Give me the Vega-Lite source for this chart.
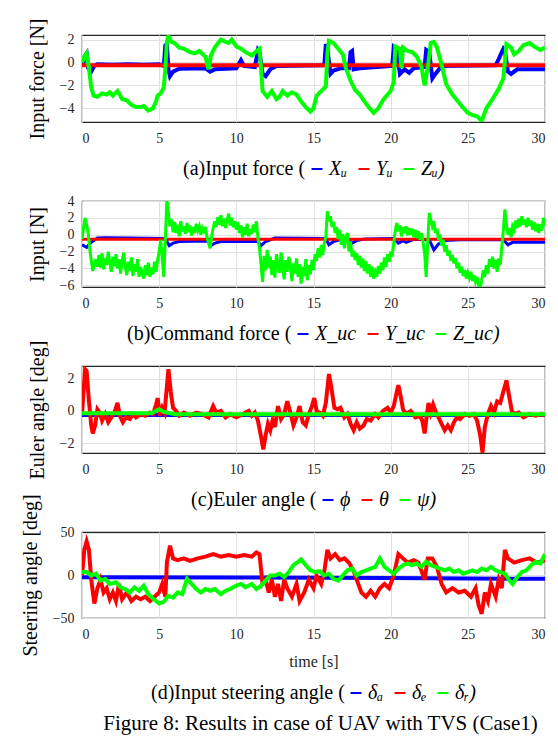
{
"$schema": "https://vega.github.io/schema/vega-lite/v6.json",
"background": "white",
"padding": {"left": 19, "top": 17, "right": 8, "bottom": 2},
"bounds": "flush",
"spacing": 79,
"resolve": {"scale": {"color": "independent"}},
"title": {"text": "Figure 8: Results in case of UAV with TVS (Case1)", "orient": "bottom", "anchor": "middle", "font": "Liberation Serif", "fontSize": 21, "fontWeight": "normal", "color": "#000000", "offset": 9, "dx": 38},
"config": {
 "font": "Liberation Serif",
 "view": {"stroke": "#262626", "strokeWidth": 1.2},
 "axis": {"labelFont": "Liberation Serif", "labelFontSize": 14, "labelColor": "#262626", "titleFont": "Liberation Serif", "titleFontWeight": "normal", "titleColor": "#000000", "titleFontSize": 20, "gridColor": "#e0e0e0", "gridWidth": 1, "domain": false, "ticks": false, "labelPadding": 8},
 "axisX": {"labelPadding": 9, "titleFontSize": 16, "titleColor": "#262626", "titlePadding": 12},
 "axisY": {"titlePadding": 12},
 "legend": {"orient": "bottom", "direction": "horizontal", "titleOrient": "left", "titleFont": "Liberation Serif", "titleFontSize": 20, "titleFontWeight": "normal", "titleColor": "#000000", "titleLimit": 500, "labelFont": "Liberation Serif", "labelFontSize": 20, "labelFontStyle": "italic", "labelColor": "#000000", "symbolType": "stroke", "symbolSize": 120, "symbolStrokeWidth": 2, "labelOffset": 2, "columnPadding": 6, "titlePadding": 1, "offset": 14, "layout": {"bottom": {"anchor": "middle"}}}
},
"datasets": {
"a": [
{"t":0,"v":-0.3,"s":"Xᵤ"},{"t":0.2,"v":0.6,"s":"Xᵤ"},{"t":0.3,"v":0.8,"s":"Xᵤ"},{"t":0.4,"v":-0.5,"s":"Xᵤ"},{"t":0.6,"v":-0.8,"s":"Xᵤ"},{"t":0.8,"v":-0.3,"s":"Xᵤ"},{"t":1.0,"v":-0.15,"s":"Xᵤ"},{"t":2,"v":-0.2,"s":"Xᵤ"},{"t":3,"v":-0.15,"s":"Xᵤ"},{"t":4,"v":-0.2,"s":"Xᵤ"},{"t":5.0,"v":-0.15,"s":"Xᵤ"},{"t":5.3,"v":-0.3,"s":"Xᵤ"},{"t":5.4,"v":1.5,"s":"Xᵤ"},{"t":5.5,"v":1.6,"s":"Xᵤ"},{"t":5.6,"v":-0.6,"s":"Xᵤ"},{"t":5.7,"v":-1.2,"s":"Xᵤ"},{"t":5.9,"v":-0.8,"s":"Xᵤ"},{"t":6.3,"v":-0.55,"s":"Xᵤ"},{"t":8,"v":-0.5,"s":"Xᵤ"},{"t":8.3,"v":-0.8,"s":"Xᵤ"},{"t":8.6,"v":-0.6,"s":"Xᵤ"},{"t":10.0,"v":-0.5,"s":"Xᵤ"},{"t":10.3,"v":0.2,"s":"Xᵤ"},{"t":10.5,"v":-0.3,"s":"Xᵤ"},{"t":11.2,"v":-0.4,"s":"Xᵤ"},{"t":11.4,"v":1.1,"s":"Xᵤ"},{"t":11.5,"v":0.9,"s":"Xᵤ"},{"t":11.7,"v":-1.0,"s":"Xᵤ"},{"t":11.9,"v":-1.2,"s":"Xᵤ"},{"t":12.2,"v":-0.6,"s":"Xᵤ"},{"t":12.6,"v":-0.3,"s":"Xᵤ"},{"t":15.7,"v":-0.25,"s":"Xᵤ"},{"t":15.8,"v":1.6,"s":"Xᵤ"},{"t":15.9,"v":1.2,"s":"Xᵤ"},{"t":16.1,"v":-1.0,"s":"Xᵤ"},{"t":16.3,"v":-0.7,"s":"Xᵤ"},{"t":16.8,"v":-0.5,"s":"Xᵤ"},{"t":17.3,"v":-0.5,"s":"Xᵤ"},{"t":17.4,"v":0.9,"s":"Xᵤ"},{"t":17.5,"v":1.0,"s":"Xᵤ"},{"t":17.6,"v":-0.6,"s":"Xᵤ"},{"t":18,"v":-0.5,"s":"Xᵤ"},{"t":20.1,"v":-0.3,"s":"Xᵤ"},{"t":20.2,"v":1.3,"s":"Xᵤ"},{"t":20.4,"v":1.0,"s":"Xᵤ"},{"t":20.6,"v":-1.0,"s":"Xᵤ"},{"t":20.9,"v":-0.6,"s":"Xᵤ"},{"t":21.2,"v":-0.9,"s":"Xᵤ"},{"t":21.5,"v":-0.5,"s":"Xᵤ"},{"t":22.2,"v":-0.4,"s":"Xᵤ"},{"t":22.3,"v":1.1,"s":"Xᵤ"},{"t":22.5,"v":0.9,"s":"Xᵤ"},{"t":22.7,"v":-1.4,"s":"Xᵤ"},{"t":22.9,"v":-1.0,"s":"Xᵤ"},{"t":23.3,"v":-0.3,"s":"Xᵤ"},{"t":26.8,"v":-0.25,"s":"Xᵤ"},{"t":27.0,"v":0.3,"s":"Xᵤ"},{"t":27.3,"v":1.2,"s":"Xᵤ"},{"t":27.4,"v":1.0,"s":"Xᵤ"},{"t":27.6,"v":-0.8,"s":"Xᵤ"},{"t":27.8,"v":-1.0,"s":"Xᵤ"},{"t":28.2,"v":-0.6,"s":"Xᵤ"},{"t":30,"v":-0.6,"s":"Xᵤ"},
{"t":0,"v":-0.25,"s":"Yᵤ"},{"t":5,"v":-0.25,"s":"Yᵤ"},{"t":10,"v":-0.25,"s":"Yᵤ"},{"t":15,"v":-0.25,"s":"Yᵤ"},{"t":20,"v":-0.25,"s":"Yᵤ"},{"t":25,"v":-0.25,"s":"Yᵤ"},{"t":30,"v":-0.25,"s":"Yᵤ"},
{"t":0,"v":0,"s":"Zᵤ"},{"t":0.15,"v":0.5,"s":"Zᵤ"},{"t":0.3,"v":0.8,"s":"Zᵤ"},{"t":0.45,"v":-0.5,"s":"Zᵤ"},{"t":0.6,"v":-2.2,"s":"Zᵤ"},{"t":0.75,"v":-2.9,"s":"Zᵤ"},{"t":1.0,"v":-3.0,"s":"Zᵤ"},{"t":1.3,"v":-2.7,"s":"Zᵤ"},{"t":1.6,"v":-2.8,"s":"Zᵤ"},{"t":1.8,"v":-2.6,"s":"Zᵤ"},{"t":2.0,"v":-2.9,"s":"Zᵤ"},{"t":2.3,"v":-2.5,"s":"Zᵤ"},{"t":2.6,"v":-3.2,"s":"Zᵤ"},{"t":2.9,"v":-3.3,"s":"Zᵤ"},{"t":3.2,"v":-3.7,"s":"Zᵤ"},{"t":3.5,"v":-3.9,"s":"Zᵤ"},{"t":3.8,"v":-3.9,"s":"Zᵤ"},{"t":4.0,"v":-3.8,"s":"Zᵤ"},{"t":4.3,"v":-4.2,"s":"Zᵤ"},{"t":4.6,"v":-4.0,"s":"Zᵤ"},{"t":4.8,"v":-3.4,"s":"Zᵤ"},{"t":4.9,"v":-2.9,"s":"Zᵤ"},{"t":5.1,"v":-2.7,"s":"Zᵤ"},{"t":5.3,"v":-2.2,"s":"Zᵤ"},{"t":5.4,"v":-0.5,"s":"Zᵤ"},{"t":5.5,"v":1.8,"s":"Zᵤ"},{"t":5.6,"v":2.3,"s":"Zᵤ"},{"t":5.8,"v":1.8,"s":"Zᵤ"},{"t":6.0,"v":1.7,"s":"Zᵤ"},{"t":6.3,"v":1.3,"s":"Zᵤ"},{"t":6.6,"v":1.2,"s":"Zᵤ"},{"t":7.0,"v":0.9,"s":"Zᵤ"},{"t":7.3,"v":0.8,"s":"Zᵤ"},{"t":7.6,"v":1.0,"s":"Zᵤ"},{"t":8.0,"v":0.5,"s":"Zᵤ"},{"t":8.2,"v":-0.6,"s":"Zᵤ"},{"t":8.35,"v":0.6,"s":"Zᵤ"},{"t":8.6,"v":1.3,"s":"Zᵤ"},{"t":9.0,"v":2.0,"s":"Zᵤ"},{"t":9.3,"v":1.8,"s":"Zᵤ"},{"t":9.5,"v":1.7,"s":"Zᵤ"},{"t":9.7,"v":2.0,"s":"Zᵤ"},{"t":10.0,"v":1.4,"s":"Zᵤ"},{"t":10.3,"v":1.2,"s":"Zᵤ"},{"t":10.6,"v":0.9,"s":"Zᵤ"},{"t":11.0,"v":0.6,"s":"Zᵤ"},{"t":11.3,"v":1.0,"s":"Zᵤ"},{"t":11.5,"v":1.2,"s":"Zᵤ"},{"t":11.6,"v":-0.5,"s":"Zᵤ"},{"t":11.7,"v":-2.5,"s":"Zᵤ"},{"t":12.0,"v":-3.0,"s":"Zᵤ"},{"t":12.3,"v":-2.5,"s":"Zᵤ"},{"t":12.6,"v":-3.2,"s":"Zᵤ"},{"t":12.8,"v":-3.0,"s":"Zᵤ"},{"t":13.0,"v":-2.5,"s":"Zᵤ"},{"t":13.3,"v":-2.9,"s":"Zᵤ"},{"t":13.6,"v":-2.6,"s":"Zᵤ"},{"t":13.9,"v":-2.8,"s":"Zᵤ"},{"t":14.2,"v":-3.4,"s":"Zᵤ"},{"t":14.5,"v":-3.9,"s":"Zᵤ"},{"t":14.8,"v":-4.3,"s":"Zᵤ"},{"t":15.0,"v":-4.0,"s":"Zᵤ"},{"t":15.2,"v":-2.9,"s":"Zᵤ"},{"t":15.5,"v":-2.5,"s":"Zᵤ"},{"t":15.8,"v":-2.1,"s":"Zᵤ"},{"t":15.9,"v":0.8,"s":"Zᵤ"},{"t":16.0,"v":1.9,"s":"Zᵤ"},{"t":16.3,"v":1.7,"s":"Zᵤ"},{"t":16.6,"v":1.2,"s":"Zᵤ"},{"t":16.9,"v":0.7,"s":"Zᵤ"},{"t":17.1,"v":-0.5,"s":"Zᵤ"},{"t":17.4,"v":-1.6,"s":"Zᵤ"},{"t":17.7,"v":-2.4,"s":"Zᵤ"},{"t":18.0,"v":-2.8,"s":"Zᵤ"},{"t":18.4,"v":-3.6,"s":"Zᵤ"},{"t":18.7,"v":-4.1,"s":"Zᵤ"},{"t":18.9,"v":-4.4,"s":"Zᵤ"},{"t":19.2,"v":-4.0,"s":"Zᵤ"},{"t":19.5,"v":-3.3,"s":"Zᵤ"},{"t":19.8,"v":-2.8,"s":"Zᵤ"},{"t":20.0,"v":-2.5,"s":"Zᵤ"},{"t":20.2,"v":-1.7,"s":"Zᵤ"},{"t":20.3,"v":1.4,"s":"Zᵤ"},{"t":20.6,"v":1.2,"s":"Zᵤ"},{"t":20.7,"v":-0.5,"s":"Zᵤ"},{"t":20.8,"v":1.3,"s":"Zᵤ"},{"t":21.1,"v":1.0,"s":"Zᵤ"},{"t":21.4,"v":0.9,"s":"Zᵤ"},{"t":21.7,"v":0.5,"s":"Zᵤ"},{"t":22.0,"v":-0.4,"s":"Zᵤ"},{"t":22.2,"v":-2.0,"s":"Zᵤ"},{"t":22.4,"v":-0.5,"s":"Zᵤ"},{"t":22.6,"v":1.7,"s":"Zᵤ"},{"t":22.8,"v":1.8,"s":"Zᵤ"},{"t":23.0,"v":1.3,"s":"Zᵤ"},{"t":23.3,"v":-0.2,"s":"Zᵤ"},{"t":23.6,"v":-1.9,"s":"Zᵤ"},{"t":24.0,"v":-2.8,"s":"Zᵤ"},{"t":24.3,"v":-3.3,"s":"Zᵤ"},{"t":24.6,"v":-3.8,"s":"Zᵤ"},{"t":25.0,"v":-4.4,"s":"Zᵤ"},{"t":25.3,"v":-4.6,"s":"Zᵤ"},{"t":25.6,"v":-4.7,"s":"Zᵤ"},{"t":25.9,"v":-5.1,"s":"Zᵤ"},{"t":26.2,"v":-4.0,"s":"Zᵤ"},{"t":26.6,"v":-3.2,"s":"Zᵤ"},{"t":27.0,"v":-2.3,"s":"Zᵤ"},{"t":27.3,"v":-1.4,"s":"Zᵤ"},{"t":27.5,"v":1.6,"s":"Zᵤ"},{"t":27.8,"v":1.3,"s":"Zᵤ"},{"t":28.0,"v":0.7,"s":"Zᵤ"},{"t":28.3,"v":1.0,"s":"Zᵤ"},{"t":28.6,"v":1.5,"s":"Zᵤ"},{"t":29.0,"v":1.7,"s":"Zᵤ"},{"t":29.3,"v":1.4,"s":"Zᵤ"},{"t":29.7,"v":1.1,"s":"Zᵤ"},{"t":30.0,"v":1.3,"s":"Zᵤ"}
],
"b": [
{"t":0,"v":-1.2,"s":"X_uc"},{"t":0.3,"v":-1.5,"s":"X_uc"},{"t":0.6,"v":-0.9,"s":"X_uc"},{"t":1.0,"v":-0.4,"s":"X_uc"},{"t":1.5,"v":-0.35,"s":"X_uc"},{"t":3,"v":-0.4,"s":"X_uc"},{"t":5.3,"v":-0.45,"s":"X_uc"},{"t":5.5,"v":-0.8,"s":"X_uc"},{"t":5.65,"v":-1.3,"s":"X_uc"},{"t":5.9,"v":-1.0,"s":"X_uc"},{"t":6.3,"v":-0.8,"s":"X_uc"},{"t":8.2,"v":-0.75,"s":"X_uc"},{"t":8.35,"v":-1.3,"s":"X_uc"},{"t":8.6,"v":-1.0,"s":"X_uc"},{"t":9.0,"v":-0.8,"s":"X_uc"},{"t":11.4,"v":-0.8,"s":"X_uc"},{"t":11.6,"v":-1.3,"s":"X_uc"},{"t":11.9,"v":-0.8,"s":"X_uc"},{"t":12.5,"v":-0.4,"s":"X_uc"},{"t":15.8,"v":-0.45,"s":"X_uc"},{"t":16.0,"v":-1.2,"s":"X_uc"},{"t":16.3,"v":-0.8,"s":"X_uc"},{"t":16.7,"v":-0.6,"s":"X_uc"},{"t":17.3,"v":-0.6,"s":"X_uc"},{"t":17.5,"v":-1.0,"s":"X_uc"},{"t":17.8,"v":-0.7,"s":"X_uc"},{"t":18.3,"v":-0.5,"s":"X_uc"},{"t":20.2,"v":-0.45,"s":"X_uc"},{"t":20.5,"v":-1.0,"s":"X_uc"},{"t":20.8,"v":-0.7,"s":"X_uc"},{"t":21.0,"v":-0.9,"s":"X_uc"},{"t":21.5,"v":-0.55,"s":"X_uc"},{"t":22.5,"v":-0.6,"s":"X_uc"},{"t":22.8,"v":-1.8,"s":"X_uc"},{"t":23.1,"v":-1.1,"s":"X_uc"},{"t":23.5,"v":-0.7,"s":"X_uc"},{"t":24.5,"v":-0.6,"s":"X_uc"},{"t":27.3,"v":-0.6,"s":"X_uc"},{"t":27.6,"v":-1.2,"s":"X_uc"},{"t":27.9,"v":-0.9,"s":"X_uc"},{"t":28.5,"v":-0.85,"s":"X_uc"},{"t":30,"v":-0.9,"s":"X_uc"},
{"t":0,"v":-0.55,"s":"Y_uc"},{"t":10,"v":-0.55,"s":"Y_uc"},{"t":20,"v":-0.55,"s":"Y_uc"},{"t":30,"v":-0.55,"s":"Y_uc"},
{"t":0.0,"v":-0.5,"s":"Z_uc"},{"t":0.1,"v":0.8,"s":"Z_uc"},{"t":0.2,"v":2.0,"s":"Z_uc"},{"t":0.3,"v":1.2,"s":"Z_uc"},{"t":0.4,"v":0.2,"s":"Z_uc"},{"t":0.5,"v":-1.7,"s":"Z_uc"},{"t":0.6,"v":-3.0,"s":"Z_uc"},{"t":0.7,"v":-4.3,"s":"Z_uc"},{"t":0.8,"v":-3.5,"s":"Z_uc"},{"t":0.9,"v":-2.9,"s":"Z_uc"},{"t":1.0,"v":-3.8,"s":"Z_uc"},{"t":1.1,"v":-2.4,"s":"Z_uc"},{"t":1.2,"v":-3.9,"s":"Z_uc"},{"t":1.3,"v":-2.2,"s":"Z_uc"},{"t":1.4,"v":-4.1,"s":"Z_uc"},{"t":1.5,"v":-2.8,"s":"Z_uc"},{"t":1.6,"v":-3.6,"s":"Z_uc"},{"t":1.7,"v":-2.0,"s":"Z_uc"},{"t":1.8,"v":-3.3,"s":"Z_uc"},{"t":1.9,"v":-4.4,"s":"Z_uc"},{"t":2.0,"v":-2.6,"s":"Z_uc"},{"t":2.1,"v":-3.7,"s":"Z_uc"},{"t":2.2,"v":-2.3,"s":"Z_uc"},{"t":2.3,"v":-4.0,"s":"Z_uc"},{"t":2.4,"v":-2.9,"s":"Z_uc"},{"t":2.5,"v":-4.6,"s":"Z_uc"},{"t":2.6,"v":-3.1,"s":"Z_uc"},{"t":2.7,"v":-2.1,"s":"Z_uc"},{"t":2.8,"v":-3.8,"s":"Z_uc"},{"t":2.9,"v":-4.8,"s":"Z_uc"},{"t":3.0,"v":-3.2,"s":"Z_uc"},{"t":3.1,"v":-4.3,"s":"Z_uc"},{"t":3.2,"v":-2.7,"s":"Z_uc"},{"t":3.3,"v":-4.9,"s":"Z_uc"},{"t":3.4,"v":-3.5,"s":"Z_uc"},{"t":3.5,"v":-4.4,"s":"Z_uc"},{"t":3.6,"v":-2.9,"s":"Z_uc"},{"t":3.7,"v":-5.0,"s":"Z_uc"},{"t":3.8,"v":-3.8,"s":"Z_uc"},{"t":3.9,"v":-4.6,"s":"Z_uc"},{"t":4.0,"v":-5.2,"s":"Z_uc"},{"t":4.1,"v":-3.6,"s":"Z_uc"},{"t":4.2,"v":-4.8,"s":"Z_uc"},{"t":4.3,"v":-3.3,"s":"Z_uc"},{"t":4.4,"v":-5.0,"s":"Z_uc"},{"t":4.5,"v":-3.9,"s":"Z_uc"},{"t":4.6,"v":-4.7,"s":"Z_uc"},{"t":4.7,"v":-3.2,"s":"Z_uc"},{"t":4.8,"v":-4.4,"s":"Z_uc"},{"t":4.9,"v":-3.0,"s":"Z_uc"},{"t":5.0,"v":-2.0,"s":"Z_uc"},{"t":5.1,"v":-0.6,"s":"Z_uc"},{"t":5.2,"v":-2.8,"s":"Z_uc"},{"t":5.3,"v":-5.0,"s":"Z_uc"},{"t":5.4,"v":-0.5,"s":"Z_uc"},{"t":5.5,"v":4.2,"s":"Z_uc"},{"t":5.6,"v":2.6,"s":"Z_uc"},{"t":5.7,"v":1.0,"s":"Z_uc"},{"t":5.8,"v":1.8,"s":"Z_uc"},{"t":5.9,"v":0.3,"s":"Z_uc"},{"t":6.0,"v":1.5,"s":"Z_uc"},{"t":6.1,"v":0.2,"s":"Z_uc"},{"t":6.2,"v":1.2,"s":"Z_uc"},{"t":6.3,"v":-0.2,"s":"Z_uc"},{"t":6.4,"v":1.6,"s":"Z_uc"},{"t":6.5,"v":0.4,"s":"Z_uc"},{"t":6.6,"v":1.0,"s":"Z_uc"},{"t":6.7,"v":0.1,"s":"Z_uc"},{"t":6.8,"v":1.4,"s":"Z_uc"},{"t":6.9,"v":0.3,"s":"Z_uc"},{"t":7.0,"v":1.1,"s":"Z_uc"},{"t":7.1,"v":-0.1,"s":"Z_uc"},{"t":7.2,"v":0.9,"s":"Z_uc"},{"t":7.3,"v":0.2,"s":"Z_uc"},{"t":7.4,"v":1.3,"s":"Z_uc"},{"t":7.5,"v":0.5,"s":"Z_uc"},{"t":7.6,"v":1.0,"s":"Z_uc"},{"t":7.7,"v":0.0,"s":"Z_uc"},{"t":7.8,"v":0.8,"s":"Z_uc"},{"t":7.9,"v":0.4,"s":"Z_uc"},{"t":8.0,"v":0.9,"s":"Z_uc"},{"t":8.1,"v":-0.3,"s":"Z_uc"},{"t":8.2,"v":-1.0,"s":"Z_uc"},{"t":8.3,"v":-1.6,"s":"Z_uc"},{"t":8.4,"v":-0.2,"s":"Z_uc"},{"t":8.5,"v":0.8,"s":"Z_uc"},{"t":8.6,"v":1.6,"s":"Z_uc"},{"t":8.7,"v":0.9,"s":"Z_uc"},{"t":8.8,"v":2.1,"s":"Z_uc"},{"t":8.9,"v":1.2,"s":"Z_uc"},{"t":9.0,"v":2.3,"s":"Z_uc"},{"t":9.1,"v":1.0,"s":"Z_uc"},{"t":9.2,"v":1.9,"s":"Z_uc"},{"t":9.3,"v":0.8,"s":"Z_uc"},{"t":9.4,"v":1.7,"s":"Z_uc"},{"t":9.5,"v":2.5,"s":"Z_uc"},{"t":9.6,"v":1.1,"s":"Z_uc"},{"t":9.7,"v":2.0,"s":"Z_uc"},{"t":9.8,"v":0.9,"s":"Z_uc"},{"t":9.9,"v":1.6,"s":"Z_uc"},{"t":10.0,"v":0.6,"s":"Z_uc"},{"t":10.1,"v":1.5,"s":"Z_uc"},{"t":10.2,"v":0.2,"s":"Z_uc"},{"t":10.3,"v":1.1,"s":"Z_uc"},{"t":10.4,"v":-0.3,"s":"Z_uc"},{"t":10.5,"v":0.9,"s":"Z_uc"},{"t":10.6,"v":0.0,"s":"Z_uc"},{"t":10.7,"v":1.3,"s":"Z_uc"},{"t":10.8,"v":-0.2,"s":"Z_uc"},{"t":10.9,"v":0.7,"s":"Z_uc"},{"t":11.0,"v":0.1,"s":"Z_uc"},{"t":11.1,"v":1.2,"s":"Z_uc"},{"t":11.2,"v":0.3,"s":"Z_uc"},{"t":11.3,"v":1.6,"s":"Z_uc"},{"t":11.4,"v":-0.4,"s":"Z_uc"},{"t":11.5,"v":-1.6,"s":"Z_uc"},{"t":11.6,"v":-3.5,"s":"Z_uc"},{"t":11.7,"v":-5.6,"s":"Z_uc"},{"t":11.8,"v":-2.5,"s":"Z_uc"},{"t":11.9,"v":-4.2,"s":"Z_uc"},{"t":12.0,"v":-1.8,"s":"Z_uc"},{"t":12.1,"v":-3.9,"s":"Z_uc"},{"t":12.2,"v":-2.6,"s":"Z_uc"},{"t":12.3,"v":-4.8,"s":"Z_uc"},{"t":12.4,"v":-3.0,"s":"Z_uc"},{"t":12.5,"v":-5.1,"s":"Z_uc"},{"t":12.6,"v":-2.3,"s":"Z_uc"},{"t":12.7,"v":-3.6,"s":"Z_uc"},{"t":12.8,"v":-4.5,"s":"Z_uc"},{"t":12.9,"v":-2.1,"s":"Z_uc"},{"t":13.0,"v":-3.9,"s":"Z_uc"},{"t":13.1,"v":-5.3,"s":"Z_uc"},{"t":13.2,"v":-3.0,"s":"Z_uc"},{"t":13.3,"v":-4.4,"s":"Z_uc"},{"t":13.4,"v":-2.6,"s":"Z_uc"},{"t":13.5,"v":-3.7,"s":"Z_uc"},{"t":13.6,"v":-5.5,"s":"Z_uc"},{"t":13.7,"v":-3.4,"s":"Z_uc"},{"t":13.8,"v":-4.6,"s":"Z_uc"},{"t":13.9,"v":-2.8,"s":"Z_uc"},{"t":14.0,"v":-5.0,"s":"Z_uc"},{"t":14.1,"v":-3.5,"s":"Z_uc"},{"t":14.2,"v":-5.8,"s":"Z_uc"},{"t":14.3,"v":-3.8,"s":"Z_uc"},{"t":14.4,"v":-4.9,"s":"Z_uc"},{"t":14.5,"v":-2.9,"s":"Z_uc"},{"t":14.6,"v":-5.4,"s":"Z_uc"},{"t":14.7,"v":-3.6,"s":"Z_uc"},{"t":14.8,"v":-4.7,"s":"Z_uc"},{"t":14.9,"v":-3.0,"s":"Z_uc"},{"t":15.0,"v":-4.2,"s":"Z_uc"},{"t":15.1,"v":-2.3,"s":"Z_uc"},{"t":15.2,"v":-3.1,"s":"Z_uc"},{"t":15.3,"v":-1.6,"s":"Z_uc"},{"t":15.4,"v":-2.7,"s":"Z_uc"},{"t":15.5,"v":-1.2,"s":"Z_uc"},{"t":15.6,"v":-2.4,"s":"Z_uc"},{"t":15.7,"v":-1.0,"s":"Z_uc"},{"t":15.8,"v":-0.2,"s":"Z_uc"},{"t":15.9,"v":2.8,"s":"Z_uc"},{"t":16.0,"v":1.6,"s":"Z_uc"},{"t":16.1,"v":2.2,"s":"Z_uc"},{"t":16.2,"v":0.9,"s":"Z_uc"},{"t":16.3,"v":1.5,"s":"Z_uc"},{"t":16.4,"v":0.2,"s":"Z_uc"},{"t":16.5,"v":0.9,"s":"Z_uc"},{"t":16.6,"v":-0.5,"s":"Z_uc"},{"t":16.7,"v":0.6,"s":"Z_uc"},{"t":16.8,"v":-1.2,"s":"Z_uc"},{"t":16.9,"v":0.1,"s":"Z_uc"},{"t":17.0,"v":-1.6,"s":"Z_uc"},{"t":17.1,"v":-0.3,"s":"Z_uc"},{"t":17.2,"v":0.2,"s":"Z_uc"},{"t":17.3,"v":-2.0,"s":"Z_uc"},{"t":17.4,"v":-0.8,"s":"Z_uc"},{"t":17.5,"v":-2.6,"s":"Z_uc"},{"t":17.6,"v":-1.9,"s":"Z_uc"},{"t":17.7,"v":-3.0,"s":"Z_uc"},{"t":17.8,"v":-2.2,"s":"Z_uc"},{"t":17.9,"v":-3.6,"s":"Z_uc"},{"t":18.0,"v":-2.5,"s":"Z_uc"},{"t":18.1,"v":-3.9,"s":"Z_uc"},{"t":18.2,"v":-2.8,"s":"Z_uc"},{"t":18.3,"v":-4.3,"s":"Z_uc"},{"t":18.4,"v":-3.1,"s":"Z_uc"},{"t":18.5,"v":-4.6,"s":"Z_uc"},{"t":18.6,"v":-3.5,"s":"Z_uc"},{"t":18.7,"v":-5.0,"s":"Z_uc"},{"t":18.8,"v":-3.8,"s":"Z_uc"},{"t":18.9,"v":-5.2,"s":"Z_uc"},{"t":19.0,"v":-4.4,"s":"Z_uc"},{"t":19.1,"v":-5.0,"s":"Z_uc"},{"t":19.2,"v":-3.7,"s":"Z_uc"},{"t":19.3,"v":-4.6,"s":"Z_uc"},{"t":19.4,"v":-3.3,"s":"Z_uc"},{"t":19.5,"v":-4.2,"s":"Z_uc"},{"t":19.6,"v":-2.7,"s":"Z_uc"},{"t":19.7,"v":-3.8,"s":"Z_uc"},{"t":19.8,"v":-2.3,"s":"Z_uc"},{"t":19.9,"v":-3.2,"s":"Z_uc"},{"t":20.0,"v":-2.0,"s":"Z_uc"},{"t":20.1,"v":-2.6,"s":"Z_uc"},{"t":20.2,"v":-1.0,"s":"Z_uc"},{"t":20.3,"v":0.5,"s":"Z_uc"},{"t":20.4,"v":1.4,"s":"Z_uc"},{"t":20.5,"v":0.4,"s":"Z_uc"},{"t":20.6,"v":1.1,"s":"Z_uc"},{"t":20.7,"v":-0.2,"s":"Z_uc"},{"t":20.8,"v":0.9,"s":"Z_uc"},{"t":20.9,"v":0.2,"s":"Z_uc"},{"t":21.0,"v":1.0,"s":"Z_uc"},{"t":21.1,"v":-0.1,"s":"Z_uc"},{"t":21.2,"v":0.8,"s":"Z_uc"},{"t":21.3,"v":0.0,"s":"Z_uc"},{"t":21.4,"v":0.7,"s":"Z_uc"},{"t":21.5,"v":-0.3,"s":"Z_uc"},{"t":21.6,"v":0.6,"s":"Z_uc"},{"t":21.7,"v":-0.4,"s":"Z_uc"},{"t":21.8,"v":0.4,"s":"Z_uc"},{"t":21.9,"v":-0.6,"s":"Z_uc"},{"t":22.0,"v":0.2,"s":"Z_uc"},{"t":22.1,"v":-0.9,"s":"Z_uc"},{"t":22.2,"v":-2.2,"s":"Z_uc"},{"t":22.3,"v":-5.0,"s":"Z_uc"},{"t":22.4,"v":-1.0,"s":"Z_uc"},{"t":22.5,"v":2.6,"s":"Z_uc"},{"t":22.6,"v":1.8,"s":"Z_uc"},{"t":22.7,"v":1.0,"s":"Z_uc"},{"t":22.8,"v":1.6,"s":"Z_uc"},{"t":22.9,"v":0.2,"s":"Z_uc"},{"t":23.0,"v":0.7,"s":"Z_uc"},{"t":23.1,"v":-0.6,"s":"Z_uc"},{"t":23.2,"v":0.0,"s":"Z_uc"},{"t":23.3,"v":-1.3,"s":"Z_uc"},{"t":23.4,"v":-0.6,"s":"Z_uc"},{"t":23.5,"v":-2.0,"s":"Z_uc"},{"t":23.6,"v":-1.2,"s":"Z_uc"},{"t":23.7,"v":-2.5,"s":"Z_uc"},{"t":23.8,"v":-1.9,"s":"Z_uc"},{"t":23.9,"v":-3.1,"s":"Z_uc"},{"t":24.0,"v":-2.4,"s":"Z_uc"},{"t":24.1,"v":-3.4,"s":"Z_uc"},{"t":24.2,"v":-2.8,"s":"Z_uc"},{"t":24.3,"v":-4.0,"s":"Z_uc"},{"t":24.4,"v":-3.3,"s":"Z_uc"},{"t":24.5,"v":-4.5,"s":"Z_uc"},{"t":24.6,"v":-3.8,"s":"Z_uc"},{"t":24.7,"v":-4.9,"s":"Z_uc"},{"t":24.8,"v":-4.2,"s":"Z_uc"},{"t":24.9,"v":-5.2,"s":"Z_uc"},{"t":25.0,"v":-4.5,"s":"Z_uc"},{"t":25.1,"v":-5.1,"s":"Z_uc"},{"t":25.2,"v":-4.4,"s":"Z_uc"},{"t":25.3,"v":-5.5,"s":"Z_uc"},{"t":25.4,"v":-4.8,"s":"Z_uc"},{"t":25.5,"v":-5.6,"s":"Z_uc"},{"t":25.6,"v":-5.0,"s":"Z_uc"},{"t":25.7,"v":-6.0,"s":"Z_uc"},{"t":25.8,"v":-6.3,"s":"Z_uc"},{"t":25.9,"v":-5.4,"s":"Z_uc"},{"t":26.0,"v":-4.2,"s":"Z_uc"},{"t":26.1,"v":-5.0,"s":"Z_uc"},{"t":26.2,"v":-3.6,"s":"Z_uc"},{"t":26.3,"v":-4.6,"s":"Z_uc"},{"t":26.4,"v":-2.9,"s":"Z_uc"},{"t":26.5,"v":-3.8,"s":"Z_uc"},{"t":26.6,"v":-2.6,"s":"Z_uc"},{"t":26.7,"v":-4.0,"s":"Z_uc"},{"t":26.8,"v":-3.0,"s":"Z_uc"},{"t":26.9,"v":-4.4,"s":"Z_uc"},{"t":27.0,"v":-2.8,"s":"Z_uc"},{"t":27.1,"v":-3.6,"s":"Z_uc"},{"t":27.2,"v":-1.5,"s":"Z_uc"},{"t":27.3,"v":0.5,"s":"Z_uc"},{"t":27.4,"v":3.0,"s":"Z_uc"},{"t":27.5,"v":1.2,"s":"Z_uc"},{"t":27.6,"v":0.0,"s":"Z_uc"},{"t":27.7,"v":0.8,"s":"Z_uc"},{"t":27.8,"v":-0.3,"s":"Z_uc"},{"t":27.9,"v":1.0,"s":"Z_uc"},{"t":28.0,"v":0.6,"s":"Z_uc"},{"t":28.1,"v":1.7,"s":"Z_uc"},{"t":28.2,"v":0.8,"s":"Z_uc"},{"t":28.3,"v":1.9,"s":"Z_uc"},{"t":28.4,"v":1.0,"s":"Z_uc"},{"t":28.5,"v":2.2,"s":"Z_uc"},{"t":28.6,"v":1.2,"s":"Z_uc"},{"t":28.7,"v":1.8,"s":"Z_uc"},{"t":28.8,"v":0.9,"s":"Z_uc"},{"t":28.9,"v":2.0,"s":"Z_uc"},{"t":29.0,"v":1.1,"s":"Z_uc"},{"t":29.1,"v":1.7,"s":"Z_uc"},{"t":29.2,"v":0.6,"s":"Z_uc"},{"t":29.3,"v":1.5,"s":"Z_uc"},{"t":29.4,"v":0.4,"s":"Z_uc"},{"t":29.5,"v":1.3,"s":"Z_uc"},{"t":29.6,"v":0.2,"s":"Z_uc"},{"t":29.7,"v":1.2,"s":"Z_uc"},{"t":29.8,"v":0.5,"s":"Z_uc"},{"t":29.9,"v":2.0,"s":"Z_uc"},{"t":30.0,"v":1.0,"s":"Z_uc"}
],
"c": [
{"t":0,"v":-0.25,"s":"ϕ"},{"t":10,"v":-0.25,"s":"ϕ"},{"t":20,"v":-0.25,"s":"ϕ"},{"t":30,"v":-0.25,"s":"ϕ"},
{"t":0,"v":-0.2,"s":"θ"},{"t":0.1,"v":1.2,"s":"θ"},{"t":0.2,"v":2.6,"s":"θ"},{"t":0.3,"v":2.5,"s":"θ"},{"t":0.45,"v":0.6,"s":"θ"},{"t":0.6,"v":-0.9,"s":"θ"},{"t":0.7,"v":-1.4,"s":"θ"},{"t":0.85,"v":-0.9,"s":"θ"},{"t":1.0,"v":0.1,"s":"θ"},{"t":1.15,"v":-0.1,"s":"θ"},{"t":1.3,"v":-0.6,"s":"θ"},{"t":1.5,"v":-0.2,"s":"θ"},{"t":1.7,"v":-0.7,"s":"θ"},{"t":1.9,"v":-0.4,"s":"θ"},{"t":2.1,"v":-0.1,"s":"θ"},{"t":2.3,"v":0.5,"s":"θ"},{"t":2.45,"v":-0.3,"s":"θ"},{"t":2.65,"v":-0.7,"s":"θ"},{"t":2.85,"v":-0.4,"s":"θ"},{"t":3.1,"v":-0.5,"s":"θ"},{"t":3.3,"v":-0.2,"s":"θ"},{"t":3.5,"v":-0.4,"s":"θ"},{"t":3.8,"v":-0.2,"s":"θ"},{"t":4.1,"v":-0.3,"s":"θ"},{"t":4.4,"v":-0.1,"s":"θ"},{"t":4.6,"v":-0.2,"s":"θ"},{"t":4.8,"v":0.4,"s":"θ"},{"t":4.9,"v":0.8,"s":"θ"},{"t":5.05,"v":-0.3,"s":"θ"},{"t":5.2,"v":0.2,"s":"θ"},{"t":5.35,"v":-0.1,"s":"θ"},{"t":5.5,"v":1.5,"s":"θ"},{"t":5.6,"v":2.6,"s":"θ"},{"t":5.75,"v":1.2,"s":"θ"},{"t":5.9,"v":0.2,"s":"θ"},{"t":6.1,"v":0.0,"s":"θ"},{"t":6.3,"v":-0.3,"s":"θ"},{"t":6.6,"v":-0.1,"s":"θ"},{"t":7.0,"v":-0.3,"s":"θ"},{"t":7.4,"v":-0.1,"s":"θ"},{"t":7.8,"v":-0.2,"s":"θ"},{"t":8.2,"v":-0.4,"s":"θ"},{"t":8.5,"v":0.3,"s":"θ"},{"t":8.7,"v":-0.1,"s":"θ"},{"t":9.0,"v":0.0,"s":"θ"},{"t":9.3,"v":-0.4,"s":"θ"},{"t":9.6,"v":-0.2,"s":"θ"},{"t":10.0,"v":-0.4,"s":"θ"},{"t":10.4,"v":-0.2,"s":"θ"},{"t":10.8,"v":0.0,"s":"θ"},{"t":11.0,"v":-0.3,"s":"θ"},{"t":11.2,"v":-0.1,"s":"θ"},{"t":11.4,"v":-0.6,"s":"θ"},{"t":11.6,"v":-1.6,"s":"θ"},{"t":11.75,"v":-2.4,"s":"θ"},{"t":11.9,"v":-1.5,"s":"θ"},{"t":12.05,"v":-0.8,"s":"θ"},{"t":12.2,"v":-1.2,"s":"θ"},{"t":12.35,"v":-0.6,"s":"θ"},{"t":12.5,"v":-1.0,"s":"θ"},{"t":12.7,"v":0.3,"s":"θ"},{"t":12.9,"v":-0.5,"s":"θ"},{"t":13.1,"v":-0.2,"s":"θ"},{"t":13.3,"v":0.6,"s":"θ"},{"t":13.5,"v":-0.1,"s":"θ"},{"t":13.7,"v":-0.9,"s":"θ"},{"t":13.9,"v":-0.4,"s":"θ"},{"t":14.1,"v":0.3,"s":"θ"},{"t":14.3,"v":-0.7,"s":"θ"},{"t":14.5,"v":-0.9,"s":"θ"},{"t":14.7,"v":-0.2,"s":"θ"},{"t":14.9,"v":0.3,"s":"θ"},{"t":15.05,"v":0.8,"s":"θ"},{"t":15.2,"v":0.0,"s":"θ"},{"t":15.4,"v":-0.1,"s":"θ"},{"t":15.6,"v":-0.3,"s":"θ"},{"t":15.8,"v":0.5,"s":"θ"},{"t":16.0,"v":2.3,"s":"θ"},{"t":16.15,"v":1.5,"s":"θ"},{"t":16.35,"v":0.2,"s":"θ"},{"t":16.55,"v":0.1,"s":"θ"},{"t":16.75,"v":0.2,"s":"θ"},{"t":17.0,"v":-0.4,"s":"θ"},{"t":17.2,"v":-0.2,"s":"θ"},{"t":17.4,"v":-0.8,"s":"θ"},{"t":17.6,"v":-1.2,"s":"θ"},{"t":17.8,"v":-0.7,"s":"θ"},{"t":18.0,"v":-1.1,"s":"θ"},{"t":18.25,"v":-0.9,"s":"θ"},{"t":18.45,"v":-0.5,"s":"θ"},{"t":18.7,"v":-0.6,"s":"θ"},{"t":19.0,"v":-0.2,"s":"θ"},{"t":19.2,"v":-0.4,"s":"θ"},{"t":19.5,"v":0.0,"s":"θ"},{"t":19.8,"v":0.2,"s":"θ"},{"t":20.0,"v":-0.1,"s":"θ"},{"t":20.2,"v":0.3,"s":"θ"},{"t":20.4,"v":1.2,"s":"θ"},{"t":20.5,"v":1.6,"s":"θ"},{"t":20.65,"v":0.9,"s":"θ"},{"t":20.8,"v":0.1,"s":"θ"},{"t":21.0,"v":-0.2,"s":"θ"},{"t":21.3,"v":0.0,"s":"θ"},{"t":21.6,"v":-0.4,"s":"θ"},{"t":21.9,"v":-0.3,"s":"θ"},{"t":22.05,"v":-0.6,"s":"θ"},{"t":22.2,"v":-1.4,"s":"θ"},{"t":22.35,"v":-0.2,"s":"θ"},{"t":22.45,"v":0.5,"s":"θ"},{"t":22.6,"v":-0.1,"s":"θ"},{"t":22.75,"v":0.4,"s":"θ"},{"t":22.9,"v":0.0,"s":"θ"},{"t":23.1,"v":-0.4,"s":"θ"},{"t":23.3,"v":-0.8,"s":"θ"},{"t":23.5,"v":-1.2,"s":"θ"},{"t":23.7,"v":-0.9,"s":"θ"},{"t":23.9,"v":-1.2,"s":"θ"},{"t":24.1,"v":-0.7,"s":"θ"},{"t":24.3,"v":-0.4,"s":"θ"},{"t":24.5,"v":-0.5,"s":"θ"},{"t":24.8,"v":-0.2,"s":"θ"},{"t":25.1,"v":-0.3,"s":"θ"},{"t":25.4,"v":-0.2,"s":"θ"},{"t":25.6,"v":-0.6,"s":"θ"},{"t":25.8,"v":-1.5,"s":"θ"},{"t":25.95,"v":-2.6,"s":"θ"},{"t":26.1,"v":-1.0,"s":"θ"},{"t":26.3,"v":-0.2,"s":"θ"},{"t":26.5,"v":0.3,"s":"θ"},{"t":26.7,"v":-0.1,"s":"θ"},{"t":26.9,"v":0.6,"s":"θ"},{"t":27.1,"v":0.5,"s":"θ"},{"t":27.3,"v":1.2,"s":"θ"},{"t":27.5,"v":1.9,"s":"θ"},{"t":27.7,"v":0.8,"s":"θ"},{"t":27.85,"v":0.0,"s":"θ"},{"t":28.0,"v":-0.2,"s":"θ"},{"t":28.3,"v":-0.1,"s":"θ"},{"t":28.6,"v":-0.4,"s":"θ"},{"t":29.0,"v":-0.2,"s":"θ"},{"t":29.4,"v":-0.3,"s":"θ"},{"t":29.8,"v":-0.2,"s":"θ"},{"t":30.0,"v":-0.3,"s":"θ"},
{"t":0,"v":-0.15,"s":"ψ"},{"t":4.5,"v":-0.15,"s":"ψ"},{"t":5.0,"v":0.1,"s":"ψ"},{"t":5.3,"v":-0.05,"s":"ψ"},{"t":6.0,"v":-0.2,"s":"ψ"},{"t":30,"v":-0.2,"s":"ψ"}
],
"d": [
{"t":0,"v":-2,"s":"δₐ"},{"t":10,"v":-2.5,"s":"δₐ"},{"t":20,"v":-3,"s":"δₐ"},{"t":30,"v":-4,"s":"δₐ"},
{"t":0,"v":0,"s":"δₑ"},{"t":0.15,"v":30,"s":"δₑ"},{"t":0.3,"v":40,"s":"δₑ"},{"t":0.45,"v":30,"s":"δₑ"},{"t":0.6,"v":-5,"s":"δₑ"},{"t":0.8,"v":-33,"s":"δₑ"},{"t":1.0,"v":-15,"s":"δₑ"},{"t":1.2,"v":-5,"s":"δₑ"},{"t":1.4,"v":-20,"s":"δₑ"},{"t":1.6,"v":-15,"s":"δₑ"},{"t":1.8,"v":-28,"s":"δₑ"},{"t":2.0,"v":-20,"s":"δₑ"},{"t":2.2,"v":-30,"s":"δₑ"},{"t":2.4,"v":-10,"s":"δₑ"},{"t":2.6,"v":-28,"s":"δₑ"},{"t":2.9,"v":-20,"s":"δₑ"},{"t":3.2,"v":-30,"s":"δₑ"},{"t":3.5,"v":-25,"s":"δₑ"},{"t":3.8,"v":-28,"s":"δₑ"},{"t":4.1,"v":-25,"s":"δₑ"},{"t":4.4,"v":-30,"s":"δₑ"},{"t":4.7,"v":-25,"s":"δₑ"},{"t":5.0,"v":-20,"s":"δₑ"},{"t":5.2,"v":-10,"s":"δₑ"},{"t":5.4,"v":-25,"s":"δₑ"},{"t":5.5,"v":15,"s":"δₑ"},{"t":5.7,"v":35,"s":"δₑ"},{"t":5.9,"v":20,"s":"δₑ"},{"t":6.2,"v":18,"s":"δₑ"},{"t":6.6,"v":20,"s":"δₑ"},{"t":7.0,"v":17,"s":"δₑ"},{"t":7.5,"v":20,"s":"δₑ"},{"t":8.0,"v":22,"s":"δₑ"},{"t":8.5,"v":25,"s":"δₑ"},{"t":9.0,"v":22,"s":"δₑ"},{"t":9.5,"v":24,"s":"δₑ"},{"t":10.0,"v":22,"s":"δₑ"},{"t":10.5,"v":24,"s":"δₑ"},{"t":11.0,"v":22,"s":"δₑ"},{"t":11.3,"v":27,"s":"δₑ"},{"t":11.5,"v":25,"s":"δₑ"},{"t":11.7,"v":-10,"s":"δₑ"},{"t":11.9,"v":-5,"s":"δₑ"},{"t":12.1,"v":-20,"s":"δₑ"},{"t":12.3,"v":-5,"s":"δₑ"},{"t":12.5,"v":-25,"s":"δₑ"},{"t":12.7,"v":-10,"s":"δₑ"},{"t":12.9,"v":-30,"s":"δₑ"},{"t":13.1,"v":-5,"s":"δₑ"},{"t":13.3,"v":-15,"s":"δₑ"},{"t":13.6,"v":-25,"s":"δₑ"},{"t":13.9,"v":-10,"s":"δₑ"},{"t":14.1,"v":-30,"s":"δₑ"},{"t":14.4,"v":-20,"s":"δₑ"},{"t":14.7,"v":-5,"s":"δₑ"},{"t":15.0,"v":-15,"s":"δₑ"},{"t":15.2,"v":0,"s":"δₑ"},{"t":15.5,"v":-10,"s":"δₑ"},{"t":15.7,"v":5,"s":"δₑ"},{"t":15.9,"v":30,"s":"δₑ"},{"t":16.1,"v":20,"s":"δₑ"},{"t":16.4,"v":25,"s":"δₑ"},{"t":16.7,"v":18,"s":"δₑ"},{"t":17.0,"v":20,"s":"δₑ"},{"t":17.3,"v":15,"s":"δₑ"},{"t":17.6,"v":5,"s":"δₑ"},{"t":17.9,"v":-10,"s":"δₑ"},{"t":18.1,"v":-20,"s":"δₑ"},{"t":18.4,"v":-25,"s":"δₑ"},{"t":18.7,"v":-18,"s":"δₑ"},{"t":19.0,"v":-25,"s":"δₑ"},{"t":19.3,"v":-15,"s":"δₑ"},{"t":19.6,"v":-10,"s":"δₑ"},{"t":19.9,"v":-15,"s":"δₑ"},{"t":20.2,"v":0,"s":"δₑ"},{"t":20.5,"v":25,"s":"δₑ"},{"t":20.8,"v":20,"s":"δₑ"},{"t":21.1,"v":15,"s":"δₑ"},{"t":21.5,"v":18,"s":"δₑ"},{"t":21.8,"v":15,"s":"δₑ"},{"t":22.0,"v":5,"s":"δₑ"},{"t":22.2,"v":-5,"s":"δₑ"},{"t":22.4,"v":20,"s":"δₑ"},{"t":22.7,"v":20,"s":"δₑ"},{"t":23.0,"v":10,"s":"δₑ"},{"t":23.3,"v":-10,"s":"δₑ"},{"t":23.6,"v":-20,"s":"δₑ"},{"t":24.0,"v":-15,"s":"δₑ"},{"t":24.4,"v":-20,"s":"δₑ"},{"t":24.8,"v":-18,"s":"δₑ"},{"t":25.2,"v":-25,"s":"δₑ"},{"t":25.5,"v":-15,"s":"δₑ"},{"t":25.7,"v":-35,"s":"δₑ"},{"t":25.9,"v":-45,"s":"δₑ"},{"t":26.1,"v":-20,"s":"δₑ"},{"t":26.3,"v":-30,"s":"δₑ"},{"t":26.5,"v":-10,"s":"δₑ"},{"t":26.8,"v":-25,"s":"δₑ"},{"t":27.0,"v":-5,"s":"δₑ"},{"t":27.2,"v":-15,"s":"δₑ"},{"t":27.4,"v":30,"s":"δₑ"},{"t":27.6,"v":20,"s":"δₑ"},{"t":28.0,"v":15,"s":"δₑ"},{"t":28.5,"v":18,"s":"δₑ"},{"t":29.0,"v":20,"s":"δₑ"},{"t":29.5,"v":15,"s":"δₑ"},{"t":30.0,"v":18,"s":"δₑ"},
{"t":0,"v":4,"s":"δᵣ"},{"t":0.3,"v":4,"s":"δᵣ"},{"t":0.6,"v":0,"s":"δᵣ"},{"t":0.9,"v":2,"s":"δᵣ"},{"t":1.2,"v":-6,"s":"δᵣ"},{"t":1.5,"v":-4,"s":"δᵣ"},{"t":1.8,"v":-10,"s":"δᵣ"},{"t":2.2,"v":-8,"s":"δᵣ"},{"t":2.5,"v":-14,"s":"δᵣ"},{"t":2.8,"v":-16,"s":"δᵣ"},{"t":3.1,"v":-20,"s":"δᵣ"},{"t":3.4,"v":-14,"s":"δᵣ"},{"t":3.7,"v":-18,"s":"δᵣ"},{"t":4.0,"v":-12,"s":"δᵣ"},{"t":4.3,"v":-22,"s":"δᵣ"},{"t":4.6,"v":-27,"s":"δᵣ"},{"t":5.0,"v":-33,"s":"δᵣ"},{"t":5.3,"v":-31,"s":"δᵣ"},{"t":5.6,"v":-24,"s":"δᵣ"},{"t":5.9,"v":-26,"s":"δᵣ"},{"t":6.2,"v":-20,"s":"δᵣ"},{"t":6.5,"v":-22,"s":"δᵣ"},{"t":6.8,"v":-4,"s":"δᵣ"},{"t":7.1,"v":-10,"s":"δᵣ"},{"t":7.4,"v":-16,"s":"δᵣ"},{"t":7.7,"v":-20,"s":"δᵣ"},{"t":8.0,"v":-16,"s":"δᵣ"},{"t":8.3,"v":-18,"s":"δᵣ"},{"t":8.6,"v":-16,"s":"δᵣ"},{"t":9.0,"v":-22,"s":"δᵣ"},{"t":9.3,"v":-18,"s":"δᵣ"},{"t":9.6,"v":-16,"s":"δᵣ"},{"t":10.0,"v":-12,"s":"δᵣ"},{"t":10.3,"v":-10,"s":"δᵣ"},{"t":10.6,"v":-14,"s":"δᵣ"},{"t":11.0,"v":-10,"s":"δᵣ"},{"t":11.3,"v":-16,"s":"δᵣ"},{"t":11.6,"v":-12,"s":"δᵣ"},{"t":11.9,"v":-6,"s":"δᵣ"},{"t":12.2,"v":0,"s":"δᵣ"},{"t":12.5,"v":0,"s":"δᵣ"},{"t":12.8,"v":2,"s":"δᵣ"},{"t":13.1,"v":-2,"s":"δᵣ"},{"t":13.4,"v":4,"s":"δᵣ"},{"t":13.7,"v":12,"s":"δᵣ"},{"t":14.0,"v":16,"s":"δᵣ"},{"t":14.2,"v":19,"s":"δᵣ"},{"t":14.5,"v":12,"s":"δᵣ"},{"t":14.8,"v":6,"s":"δᵣ"},{"t":15.1,"v":4,"s":"δᵣ"},{"t":15.4,"v":5,"s":"δᵣ"},{"t":15.7,"v":0,"s":"δᵣ"},{"t":16.0,"v":2,"s":"δᵣ"},{"t":16.3,"v":-4,"s":"δᵣ"},{"t":16.6,"v":-6,"s":"δᵣ"},{"t":16.9,"v":0,"s":"δᵣ"},{"t":17.2,"v":6,"s":"δᵣ"},{"t":17.5,"v":8,"s":"δᵣ"},{"t":17.8,"v":0,"s":"δᵣ"},{"t":18.1,"v":4,"s":"δᵣ"},{"t":18.4,"v":6,"s":"δᵣ"},{"t":18.7,"v":8,"s":"δᵣ"},{"t":19.0,"v":10,"s":"δᵣ"},{"t":19.3,"v":20,"s":"δᵣ"},{"t":19.6,"v":10,"s":"δᵣ"},{"t":19.9,"v":6,"s":"δᵣ"},{"t":20.2,"v":2,"s":"δᵣ"},{"t":20.5,"v":8,"s":"δᵣ"},{"t":20.8,"v":12,"s":"δᵣ"},{"t":21.1,"v":14,"s":"δᵣ"},{"t":21.4,"v":12,"s":"δᵣ"},{"t":21.7,"v":14,"s":"δᵣ"},{"t":22.0,"v":10,"s":"δᵣ"},{"t":22.3,"v":16,"s":"δᵣ"},{"t":22.6,"v":12,"s":"δᵣ"},{"t":22.9,"v":10,"s":"δᵣ"},{"t":23.2,"v":8,"s":"δᵣ"},{"t":23.5,"v":6,"s":"δᵣ"},{"t":23.8,"v":8,"s":"δᵣ"},{"t":24.1,"v":4,"s":"δᵣ"},{"t":24.4,"v":6,"s":"δᵣ"},{"t":24.7,"v":2,"s":"δᵣ"},{"t":25.0,"v":4,"s":"δᵣ"},{"t":25.3,"v":6,"s":"δᵣ"},{"t":25.6,"v":4,"s":"δᵣ"},{"t":25.9,"v":8,"s":"δᵣ"},{"t":26.2,"v":6,"s":"δᵣ"},{"t":26.5,"v":10,"s":"δᵣ"},{"t":26.8,"v":6,"s":"δᵣ"},{"t":27.1,"v":4,"s":"δᵣ"},{"t":27.4,"v":2,"s":"δᵣ"},{"t":27.7,"v":-6,"s":"δᵣ"},{"t":27.9,"v":-10,"s":"δᵣ"},{"t":28.2,"v":-2,"s":"δᵣ"},{"t":28.5,"v":4,"s":"δᵣ"},{"t":28.8,"v":6,"s":"δᵣ"},{"t":29.1,"v":12,"s":"δᵣ"},{"t":29.4,"v":16,"s":"δᵣ"},{"t":29.7,"v":14,"s":"δᵣ"},{"t":30.0,"v":25,"s":"δᵣ"}
]
},
"vconcat": [
{
 "width": 463, "height": 87,
 "data": {"name": "a"},
 "mark": {"type": "line", "strokeWidth": 4, "clip": true},
 "encoding": {
  "x": {"field": "t", "type": "quantitative", "scale": {"domain": [0, 30], "nice": false}, "axis": {"values": [0,5,10,15,20,25,30], "title": null, "labelFont": "Liberation Serif"}},
  "y": {"field": "v", "type": "quantitative", "scale": {"domain": [-5.2, 2.4], "nice": false, "zero": false}, "axis": {"values": [-4,-2,0,2], "title": "Input force [N]", "labelFont": "Liberation Serif", "titleFont": "Liberation Serif", "titleFontSize": 20, "titleFontWeight": "normal"}},
  "color": {"field": "s", "type": "nominal", "scale": {"domain": ["Xᵤ","Yᵤ","Zᵤ"], "range": ["#0000ff","#ff0000","#00ff00"]}, "legend": {"title": "(a)Input force (", "titleFont": "Liberation Serif", "labelFont": "Liberation Serif", "labelExpr": "datum.value == 'Zᵤ' ? datum.label + ')' : datum.label"}}
 }
},
{
 "width": 463, "height": 86,
 "data": {"name": "b"},
 "mark": {"type": "line", "strokeWidth": 3, "clip": true},
 "encoding": {
  "x": {"field": "t", "type": "quantitative", "scale": {"domain": [0, 30], "nice": false}, "axis": {"values": [0,5,10,15,20,25,30], "title": null, "labelFont": "Liberation Serif"}},
  "y": {"field": "v", "type": "quantitative", "scale": {"domain": [-6.2, 4], "nice": false, "zero": false}, "axis": {"values": [-6,-4,-2,0,2,4], "title": "Input [N]", "labelFont": "Liberation Serif", "titleFont": "Liberation Serif", "titleFontSize": 20, "titleFontWeight": "normal"}},
  "color": {"field": "s", "type": "nominal", "scale": {"domain": ["X_uc","Y_uc","Z_uc"], "range": ["#0000ff","#ff0000","#00ff00"]}, "legend": {"title": "(b)Command force (", "titleFont": "Liberation Serif", "labelFont": "Liberation Serif", "labelExpr": "datum.value == 'Z_uc' ? datum.label + ')' : datum.label"}}
 }
},
{
 "width": 463, "height": 87,
 "data": {"name": "c"},
 "mark": {"type": "line", "strokeWidth": 4, "clip": true},
 "encoding": {
  "x": {"field": "t", "type": "quantitative", "scale": {"domain": [0, 30], "nice": false}, "axis": {"values": [0,5,10,15,20,25,30], "title": null, "labelFont": "Liberation Serif"}},
  "y": {"field": "v", "type": "quantitative", "scale": {"domain": [-2.62, 2.8], "nice": false, "zero": false}, "axis": {"values": [-2,0,2], "title": "Euler angle [deg]", "labelFont": "Liberation Serif", "titleFont": "Liberation Serif", "titleFontSize": 20, "titleFontWeight": "normal"}},
  "color": {"field": "s", "type": "nominal", "scale": {"domain": ["ϕ","θ","ψ"], "range": ["#0000ff","#ff0000","#00ff00"]}, "legend": {"title": "(c)Euler angle (", "titleFont": "Liberation Serif", "labelFont": "Liberation Serif", "labelExpr": "datum.value == 'ψ' ? datum.label + ')' : datum.label"}}
 }
},
{
 "width": 463, "height": 86,
 "data": {"name": "d"},
 "mark": {"type": "line", "strokeWidth": 4, "clip": true},
 "encoding": {
  "x": {"field": "t", "type": "quantitative", "scale": {"domain": [0, 30], "nice": false}, "axis": {"values": [0,5,10,15,20,25,30], "title": "time [s]", "labelFont": "Liberation Serif", "titleFont": "Liberation Serif", "titleFontSize": 16, "titleFontWeight": "normal"}},
  "y": {"field": "v", "type": "quantitative", "scale": {"domain": [-50, 51], "nice": false, "zero": false}, "axis": {"values": [-50,0,50], "title": "Steering angle [deg]", "labelFont": "Liberation Serif", "titleFont": "Liberation Serif", "titleFontSize": 20, "titleFontWeight": "normal"}},
  "color": {"field": "s", "type": "nominal", "scale": {"domain": ["δₐ","δₑ","δᵣ"], "range": ["#0000ff","#ff0000","#00ff00"]}, "legend": {"title": "(d)Input steering angle (", "titleFont": "Liberation Serif", "labelFont": "Liberation Serif", "labelExpr": "datum.value == 'δᵣ' ? datum.label + ')' : datum.label"}}
 }
}
]
}
